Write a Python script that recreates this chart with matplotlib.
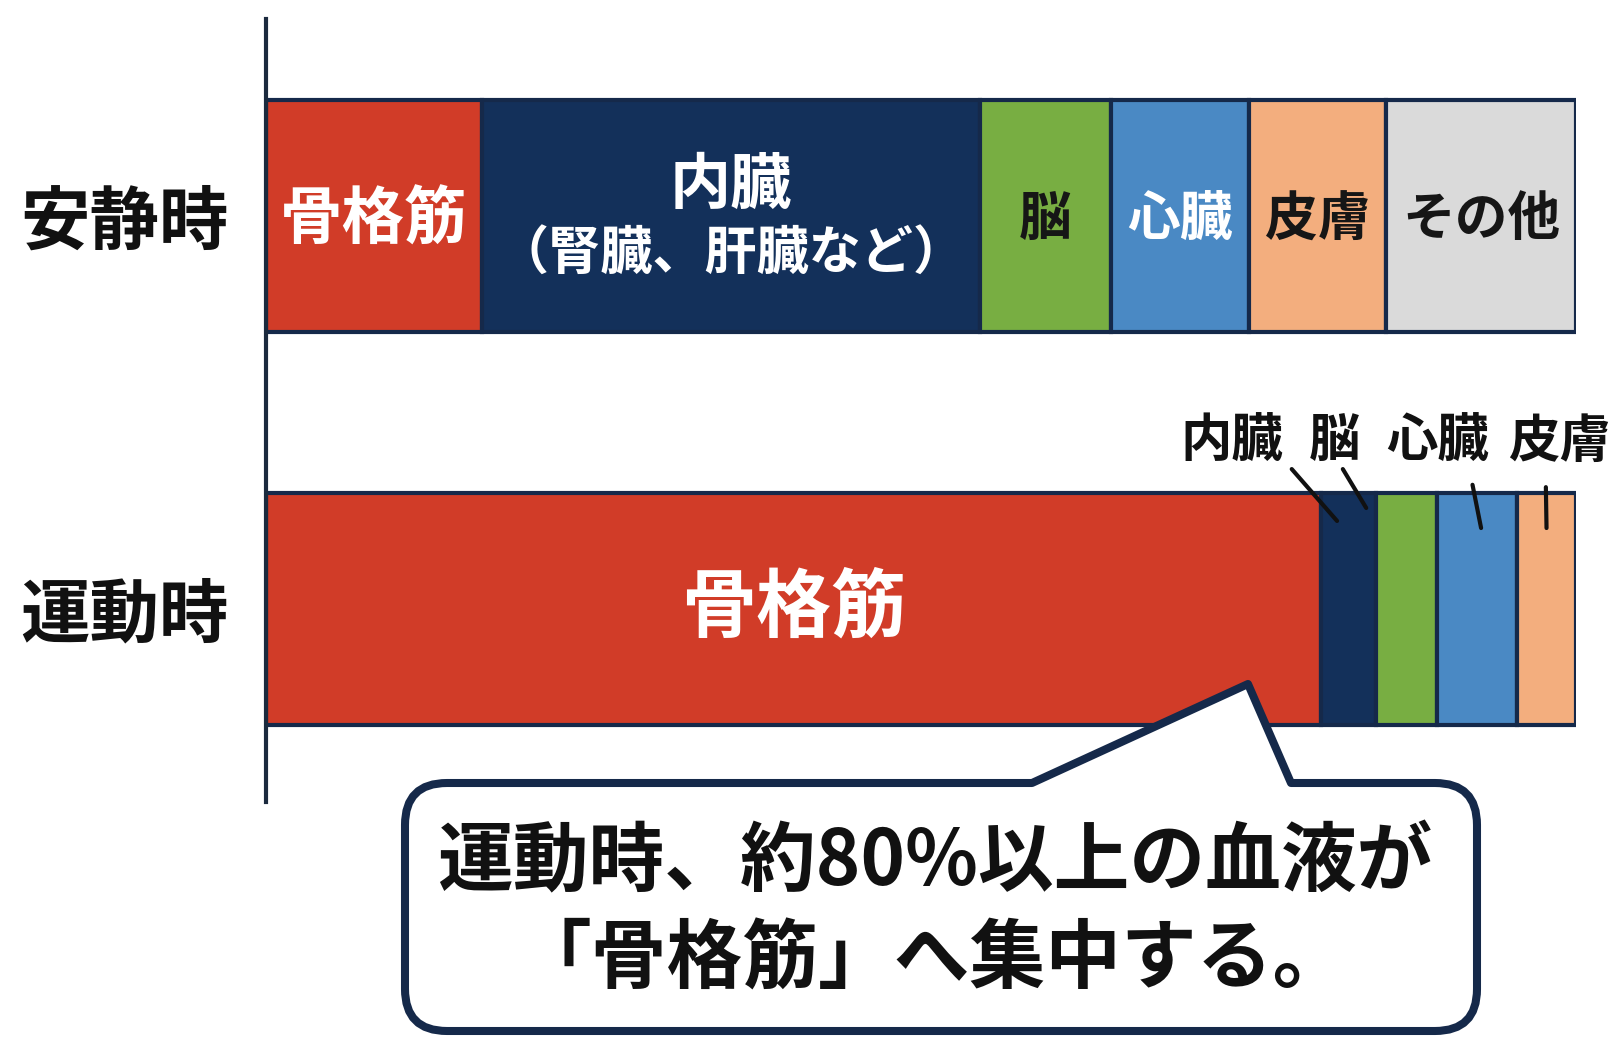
import matplotlib.pyplot as plt
import numpy as np
from matplotlib.path import Path
from matplotlib.patches import PathPatch

plt.rcParams['font.family'] = ['Noto Sans CJK JP', 'DejaVu Sans']

# 血流配分（%）
conditions = ['安静時', '運動時']
organs_rest = ['骨格筋', '内臓', '脳', '心臓', '皮膚', 'その他']
share_rest = [16.5, 38.0, 10.0, 10.5, 10.5, 14.5]
organs_exercise = ['骨格筋', '内臓', '脳', '心臓', '皮膚']
share_exercise = [80.5, 4.2, 4.7, 6.1, 4.5]

organ_colors = {
    '骨格筋': '#D13C28',
    '内臓': '#13305A',
    '脳': '#78AE42',
    '心臓': '#4A89C4',
    '皮膚': '#F3AE7E',
    'その他': '#DADADA',
}
text_colors = {
    '骨格筋': 'white', '内臓': 'white', '脳': '#161616',
    '心臓': 'white', '皮膚': '#161616', 'その他': '#161616',
}
EDGE = '#15294A'

fig = plt.figure(figsize=(16.17, 10.38), dpi=100)
ax = fig.add_axes([266 / 1617, 1 - 802 / 1038, 1310 / 1617, 783 / 1038])

bar_h = 0.59
lefts_rest = np.concatenate([[0], np.cumsum(share_rest)[:-1]])
lefts_ex = np.concatenate([[0], np.cumsum(share_exercise)[:-1]])

ax.barh([0] * len(share_rest), share_rest, left=lefts_rest, height=bar_h,
        color=[organ_colors[o] for o in organs_rest], edgecolor=EDGE, linewidth=3)
ax.barh([1] * len(share_exercise), share_exercise, left=lefts_ex, height=bar_h,
        color=[organ_colors[o] for o in organs_exercise], edgecolor=EDGE, linewidth=3)

# 安静時：各区分の中に名称
for name, left, w in zip(organs_rest, lefts_rest, share_rest):
    cx = left + w / 2
    if name == '内臓':
        ax.text(cx, -0.076, '内臓', ha='center', va='center', fontsize=44,
                fontweight='bold', color='white')
        ax.text(cx, 0.094, '（腎臓、肝臓など）', ha='center', va='center', fontsize=37.5,
                fontweight='bold', color='white')
    else:
        fs = 45 if name == '骨格筋' else 38
        ax.text(cx, 0.01, name, ha='center', va='center', fontsize=fs,
                fontweight='bold', color=text_colors[name])

# 運動時：骨格筋は中に、その他は引き出し線で
ax.text(lefts_ex[0] + share_exercise[0] / 2, 1.0, '骨格筋', ha='center', va='center',
        fontsize=54, fontweight='bold', color='white')

leader_text_x = [73.7, 81.6, 89.4, 98.7]
leader_start = [(78.3, 0.644), (82.2, 0.644), (92.1, 0.684), (97.7, 0.690)]
leader_target = [(1, 0.30, 0.776), (1, 0.83, 0.743), (3, 0.55, 0.794), (4, 0.50, 0.794)]
for name, tx, (sx, sy), (i, frac, ey) in zip(organs_exercise[1:], leader_text_x,
                                              leader_start, leader_target):
    ax.text(tx, 0.575, name, ha='center', va='center', fontsize=37,
            fontweight='bold', color='#111111', clip_on=False)
    ex = lefts_ex[i] + frac * share_exercise[i]
    ax.plot([sx, ex], [sy, ey], color='#111111', lw=3, solid_capstyle='round',
            clip_on=False, zorder=5)

ax.set_xlim(0, 100)
ax.set_ylim(1.491, -0.501)
ax.set_yticks([0, 1], conditions)
ax.tick_params(axis='y', length=0, pad=27, labelsize=50)
for lbl in ax.get_yticklabels():
    lbl.set_fontweight('bold')
    lbl.set_color('#111111')
ax.set_xticks([])
for side in ['top', 'right', 'bottom']:
    ax.spines[side].set_visible(False)
ax.spines['left'].set_color('#1B2A3E')
ax.spines['left'].set_linewidth(3)

# 吹き出し（ピクセル座標の重ね描き用 axes）
ov = fig.add_axes([0, 0, 1, 1], zorder=10)
ov.set_xlim(0, 1617)
ov.set_ylim(1038, 0)
ov.axis('off')
ov.patch.set_alpha(0)

L, R, T, B, r = 405, 1477, 783, 1031, 42
tip = (1248, 684)
verts = [
    (L + r, T), (1032, T), tip, (1291, T), (R - r, T),
    (R, T), (R, T + r), (R, B - r),
    (R, B), (R - r, B), (L + r, B),
    (L, B), (L, B - r), (L, T + r),
    (L, T), (L + r, T), (L + r, T),
]
codes = [Path.MOVETO, Path.LINETO, Path.LINETO, Path.LINETO, Path.LINETO,
         Path.CURVE3, Path.CURVE3, Path.LINETO,
         Path.CURVE3, Path.CURVE3, Path.LINETO,
         Path.CURVE3, Path.CURVE3, Path.LINETO,
         Path.CURVE3, Path.CURVE3, Path.CLOSEPOLY]
ov.add_patch(PathPatch(Path(verts, codes), facecolor='white', edgecolor=EDGE,
                       linewidth=5.8, joinstyle='round'))

ov.text(935, 863, '運動時、約80%以上の血液が', ha='center', va='center',
        fontsize=54.5, fontweight='bold', color='#111111')
ov.text(932, 960, '「骨格筋」へ集中する。', ha='center', va='center',
        fontsize=54.5, fontweight='bold', color='#111111')

fig.savefig('out.png', dpi=100, facecolor='white')
